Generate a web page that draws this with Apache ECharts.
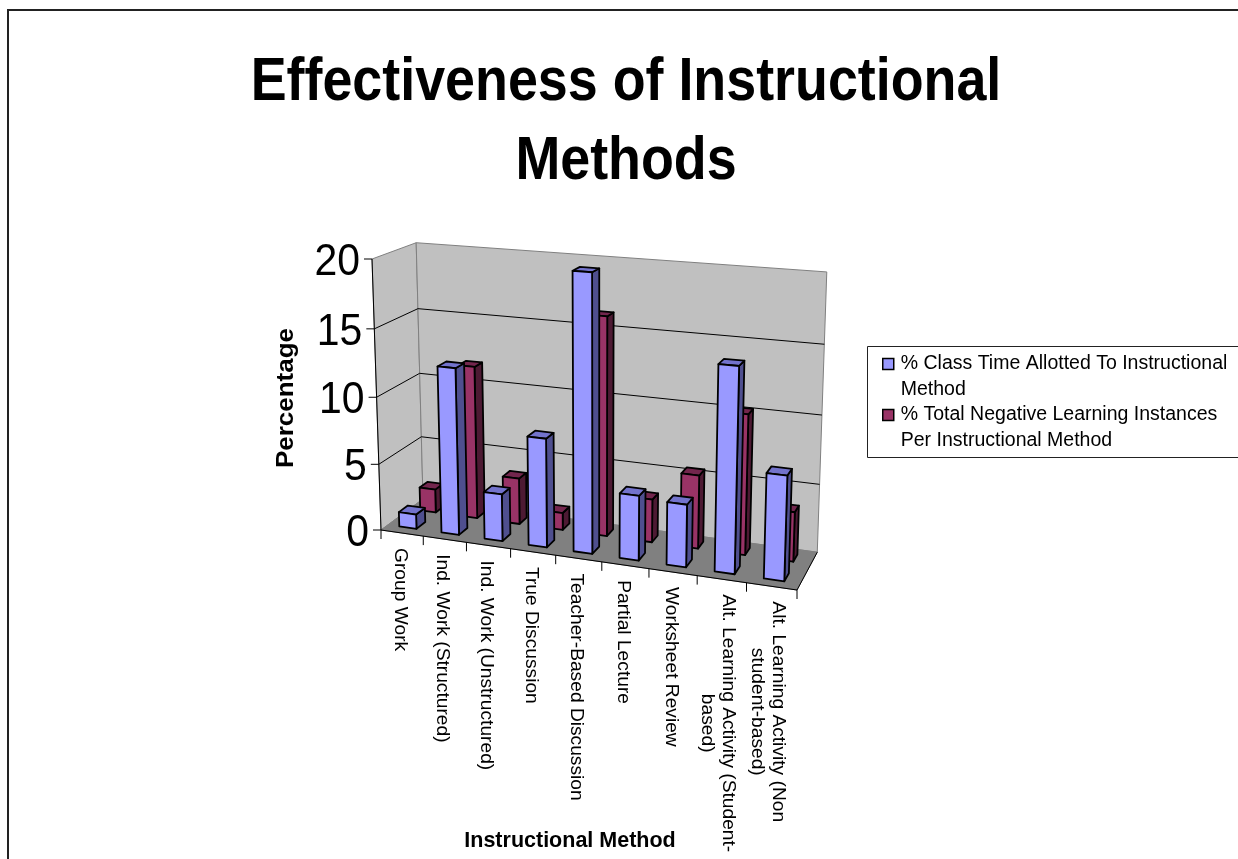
<!DOCTYPE html>
<html><head><meta charset="utf-8">
<style>html,body{margin:0;padding:0;background:#fff}#c{width:1238px;height:859px}</style>
<script src="https://cdn.jsdelivr.net/npm/echarts@6/dist/echarts.min.js"></script>
</head><body><div id="c"></div>
<script>
const categories = ['Group Work','Ind. Work (Structured)','Ind. Work (Unstructured)','True Discussion','Teacher-Based Discussion','Partial Lecture','Worksheet Review','Alt. Learning Activity (Student-\nbased)','Alt. Learning Activity (Non\nstudent-based)'];
const classTime = [1.1,12.4,3.5,8,20,4.7,4.5,14.5,7.4];
const negativeInstances = [1.8,11.6,3.5,1.3,16.2,3.2,5.4,10.2,3.6];
const yTicks = [0,5,10,15,20];
const seriesNames = ['% Class Time Allotted To Instructional Method','% Total Negative Learning Instances Per Instructional Method'];
const legendLines = {};
legendLines[seriesNames[0]] = '\n% Class Time Allotted To Instructional\nMethod';
legendLines[seriesNames[1]] = '\n% Total Negative Learning Instances\nPer Instructional Method';

const FF = '"Liberation Sans", Arial, sans-serif';
// perspective frame: u along categories, v along values, w into depth (all 0..1)
const A=[381,530],B=[797,590],C=[423,499],E=[372,259];
const P=-0.095,Q=-0.04,R=0.06;
const ax=[B[0]*(1+P)-A[0],B[1]*(1+P)-A[1]],
      bx=[E[0]*(1+Q)-A[0],E[1]*(1+Q)-A[1]],
      cx=[C[0]*(1+R)-A[0],C[1]*(1+R)-A[1]];
function proj(u,v,w){const W=1+u*P+v*Q+w*R;
  return [(A[0]+u*ax[0]+v*bx[0]+w*cx[0])/W,(A[1]+u*ax[1]+v*bx[1]+w*cx[1])/W];}
function nrm(params,api,idx,frac,val){
  const cs=params.coordSys,p=api.coord([idx,val]),bw=api.size([1,0])[0];
  return {u:(p[0]+frac*bw-cs.x)/cs.width,v:(cs.y+cs.height-p[1])/cs.height};
}
const poly=(pts,fill,stroke,lw)=>({type:'polygon',shape:{points:pts},style:{fill:fill,stroke:stroke||null,lineWidth:lw||0,lineJoin:'round'}});
const line=(a,b,stroke,lw)=>({type:'line',shape:{x1:a[0],y1:a[1],x2:b[0],y2:b[1]},style:{stroke:stroke,lineWidth:lw||1}});

function renderFrame(params,api){
  const ch=[];
  const pv=t=>nrm(params,api,0,0,t).v;
  const v1=pv(20);
  ch.push(poly([proj(0,0,0),proj(0,0,1),proj(0,v1,1),proj(0,v1,0)],'#C0C0C0','#808080',1));
  ch.push(poly([proj(0,0,1),proj(1,0,1),proj(1,v1,1),proj(0,v1,1)],'#C0C0C0','#808080',1));
  ch.push(poly([proj(0,0,0),proj(1,0,0),proj(1,0,1),proj(0,0,1)],'#808080','#808080',1));
  yTicks.forEach(t=>{
    const v=pv(t);
    if(t>0&&t<20){
      ch.push(line(proj(0,v,0),proj(0,v,1),'#000',1));
      ch.push(line(proj(0,v,1),proj(1,v,1),'#000',1));
    }
    const a=proj(0,v,0);
    ch.push(line(a,[a[0]-8,a[1]],'#000',1));
    ch.push({type:'text',x:a[0]-12,y:a[1]+4,scaleX:0.93,style:{text:String(t),fill:'#000',fontSize:44,fontFamily:FF,align:'right',verticalAlign:'middle'}});
  });
  ch.push(line(proj(0,0,0),proj(0,v1,0),'#000',1));
  ch.push(line(proj(0,0,0),proj(1,0,0),'#000',1.2));
  ch.push(line(proj(1,0,0),proj(1,0,1),'#000',1));
  for(let i=0;i<=categories.length;i++){
    const n=nrm(params,api,i,-0.5,0),a=proj(n.u,0,0);
    ch.push(line(a,[a[0],a[1]+9],'#000',1));
  }
  return {type:'group',children:ch};
}
function renderBars(face,w0,w1,f0,f1){
  return function(params,api){
    const i=api.value(0),val=api.value(1);
    const L=nrm(params,api,i,f0-0.5,0).u,Rr=nrm(params,api,i,f1-0.5,0).u,T=nrm(params,api,i,0,val).v;
    const st='#000',lw=1.8;
    return {type:'group',children:[
      poly([proj(Rr,0,w0),proj(Rr,0,w1),proj(Rr,T,w1),proj(Rr,T,w0)],face[2],st,lw),
      poly([proj(L,T,w0),proj(Rr,T,w0),proj(Rr,T,w1),proj(L,T,w1)],face[1],st,lw),
      poly([proj(L,0,w0),proj(Rr,0,w0),proj(Rr,T,w0),proj(L,T,w0)],face[0],st,lw)
    ]};
  };
}
function renderCatLabel(params,api){
  const i=api.value(0),n=nrm(params,api,i,0,0),a=proj(n.u,0,0);
  const text=categories[i],lines=text.split('\n');
  const ctx=renderCatLabel.ctx||(renderCatLabel.ctx=document.createElement('canvas').getContext('2d'));
  ctx.font='19.2px "Liberation Sans"';
  const len=ctx.measureText(lines[0]).width;
  const multi=lines.length>1;
  return {type:'text',x:a[0]-2-(multi?2:0),y:a[1]+15+(multi?len/2:0),rotation:-Math.PI/2,
    style:{text:text,fill:'#000',fontSize:19.2,fontFamily:FF,lineHeight:21,align:multi?'center':'left',verticalAlign:'middle'}};
}
const blueFace=['#9999FF','#7373CC','#4F4F8F'],maroonFace=['#993366','#73264D','#4D1A33'];
const chart=echarts.init(document.getElementById('c'),null,{renderer:'canvas'});
chart.setOption({
  animation:false,backgroundColor:'#fff',
  grid:{left:A[0],top:E[1],width:B[0]-A[0],height:A[1]-E[1]},
  xAxis:{type:'category',data:categories,axisLine:{show:false},axisTick:{show:false},axisLabel:{show:false},splitLine:{show:false},
    name:'Instructional Method',nameLocation:'middle',nameGap:300,
    nameTextStyle:{fontFamily:FF,fontWeight:'bold',fontSize:21.5,color:'#000',padding:[0,38,0,0]}},
  yAxis:{type:'value',min:0,max:20,interval:5,axisLine:{show:false},axisTick:{show:false},axisLabel:{show:false},splitLine:{show:false}},
  legend:{data:seriesNames.map((n,k)=>({name:n,icon:'rect',itemStyle:{color:k?'#993366':'#9999FF',borderColor:'#000',borderWidth:1.5}})),
    orient:'vertical',left:882,top:325,itemWidth:11,itemHeight:11,itemGap:-27,padding:0,selectedMode:false,
    formatter:n=>legendLines[n],
    textStyle:{fontFamily:FF,fontSize:19.5,lineHeight:26,color:'#000',padding:[0,0,0,2]}},
  graphic:[
    {type:'line',silent:true,z:-1,shape:{x1:7,y1:10,x2:1238,y2:10},style:{stroke:'#222',lineWidth:2}},
    {type:'line',silent:true,z:-1,shape:{x1:8,y1:9,x2:8,y2:859},style:{stroke:'#222',lineWidth:2}},
    {type:'rect',silent:true,z:1,shape:{x:867.5,y:346.5,width:375,height:111},style:{fill:'#fff',stroke:'#222',lineWidth:1}},
    {type:'text',silent:true,z:6,x:626,y:52,scaleX:0.868,style:{text:'Effectiveness of Instructional',fill:'#000',fontFamily:FF,fontWeight:'bold',fontSize:62,align:'center',verticalAlign:'top'}},
    {type:'text',silent:true,z:6,x:626,y:131,scaleX:0.868,style:{text:'Methods',fill:'#000',fontFamily:FF,fontWeight:'bold',fontSize:62,align:'center',verticalAlign:'top'}},
    {type:'text',silent:true,z:6,x:287,y:398,rotation:Math.PI/2,scaleX:1.13,style:{text:'Percentage',fill:'#000',fontFamily:FF,fontWeight:'bold',fontSize:23,align:'center',verticalAlign:'middle'}}
  ],
  series:[
    {type:'custom',name:'frame',silent:true,z:2,clip:false,renderItem:renderFrame,data:[[0,0]],encode:{x:0,y:1}},
    {type:'custom',name:seriesNames[1],z:3,clip:false,itemStyle:{color:'#993366'},renderItem:renderBars(maroonFace,0.67,0.87,0.26,0.64),data:negativeInstances.map((v,i)=>[i,v]),encode:{x:0,y:1}},
    {type:'custom',name:seriesNames[0],z:4,clip:false,itemStyle:{color:'#9999FF'},renderItem:renderBars(blueFace,0.16,0.37,0.27,0.68),data:classTime.map((v,i)=>[i,v]),encode:{x:0,y:1}},
    {type:'custom',name:'labels',silent:true,z:5,clip:false,renderItem:renderCatLabel,data:categories.map((c,i)=>[i,0]),encode:{x:0,y:1}}
  ]
});
</script></body></html>
